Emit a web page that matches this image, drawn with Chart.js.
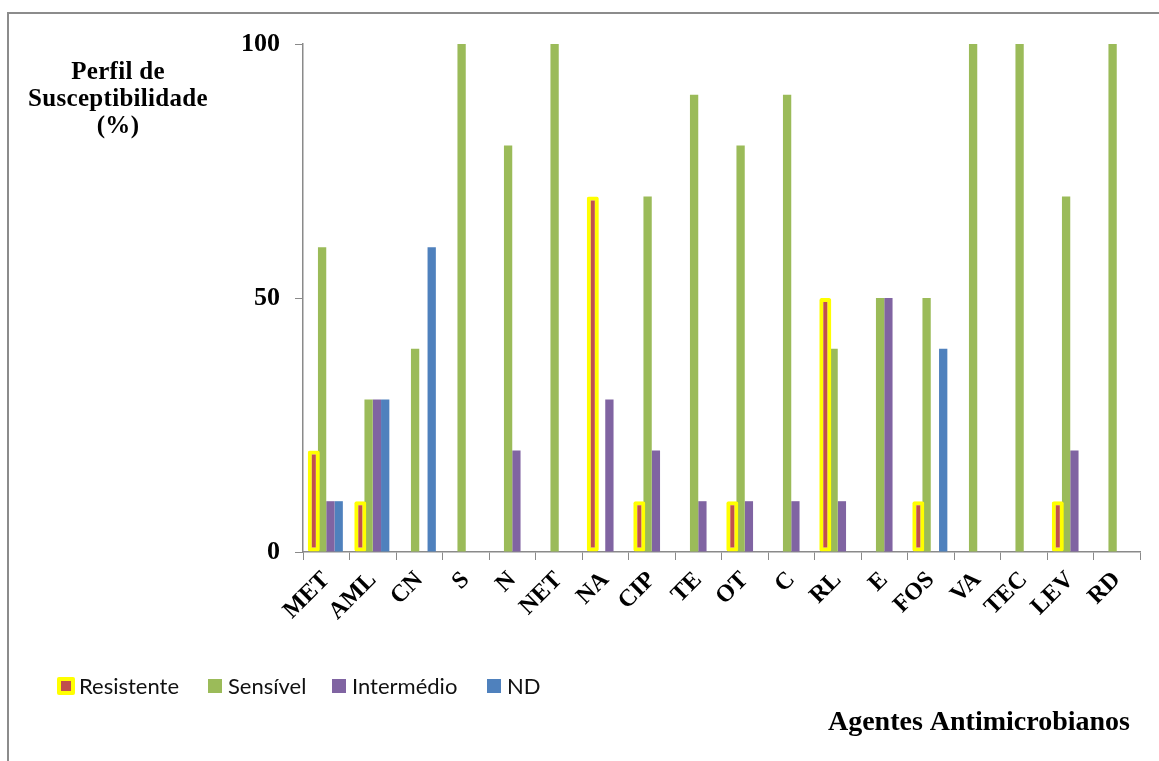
<!DOCTYPE html>
<html lang="pt">
<head>
<meta charset="utf-8">
<title>Perfil de Susceptibilidade</title>
<script src="https://cdn.jsdelivr.net/npm/chart.js@4.4.1/dist/chart.umd.min.js"></script>
<style>
  html, body { margin: 0; padding: 0; background: #ffffff; }
  #wrap { width: 1159px; height: 761px; position: relative; }
  canvas { display: block; }
</style>
</head>
<body>
<div id="wrap"><canvas id="chart" width="1159" height="761"></canvas></div>
<script>
// Antimicrobial agents (categories)
const categories = ['MET', 'AML', 'CN', 'S', 'N', 'NET', 'NA', 'CIP', 'TE', 'OT', 'C', 'RL', 'E', 'FOS', 'VA', 'TEC', 'LEV', 'RD'];

// Susceptibility profile, percent of isolates
const resistente = [20, 10, 0, 0, 0, 0, 70, 10, 0, 10, 0, 50, 0, 10, 0, 0, 10, 0];
const sensivel   = [60, 30, 40, 100, 80, 100, 0, 70, 90, 80, 90, 40, 50, 50, 100, 100, 70, 100];
const intermedio = [10, 30, 0, 0, 20, 0, 30, 20, 10, 10, 10, 10, 50, 0, 0, 0, 20, 0];
const nd         = [10, 30, 60, 0, 0, 0, 0, 0, 0, 0, 0, 0, 0, 40, 0, 0, 0, 0];

// Value-axis tick labels
const yTicks = [0, 50, 100];

const SERIF = '"Liberation Serif", "Times New Roman", serif';
const SANS = 'Lato, "Open Sans", sans-serif';
const AXIS_GREY = '#8a8a8a';

// Frame, titles and legend drawn around the plot
const decor = {
  id: 'decor',
  beforeDraw(chart) {
    const ctx = chart.ctx;
    ctx.save();
    ctx.fillStyle = '#ffffff';
    ctx.fillRect(0, 0, chart.width, chart.height);
    ctx.fillStyle = '#8c8c8c';
    ctx.fillRect(7, 12, chart.width - 7, 2);
    ctx.fillRect(7, 12, 2, chart.height - 12);
    ctx.restore();
  },
  afterDraw(chart, args, opts) {
    const ctx = chart.ctx;
    ctx.save();
    ctx.fillStyle = '#000000';
    ctx.textBaseline = 'alphabetic';

    // value-axis title
    ctx.font = 'bold 25px ' + SERIF;
    ctx.textAlign = 'center';
    ctx.letterSpacing = '0.3px';
    const yLines = ['Perfil de', 'Susceptibilidade', '(%)'];
    yLines.forEach((t, i) => ctx.fillText(t, 118, 79 + i * 27));

    // category-axis title
    ctx.font = 'bold 28px ' + SERIF;
    ctx.textAlign = 'right';
    ctx.letterSpacing = '0px';
    ctx.fillText('Agentes Antimicrobianos', 1130, 730);

    // legend
    ctx.font = '22px ' + SANS;
    ctx.textAlign = 'left';
    chart.data.datasets.forEach((ds, i) => {
      const bx = opts.boxX[i];
      const by = 679;
      if (ds.legendRing) {
        ctx.fillStyle = ds.borderColor;
        ctx.beginPath();
        ctx.roundRect(bx - 2, by - 2, 18, 18, 2);
        ctx.fill();
        ctx.fillStyle = ds.backgroundColor;
        ctx.fillRect(bx + 2, by + 2, 10, 10);
      } else {
        ctx.fillStyle = ds.backgroundColor;
        ctx.fillRect(bx, by, 14, 14);
      }
      ctx.fillStyle = '#111111';
      ctx.fillText(ds.label, bx + 20, 694);
    });
    ctx.restore();
  }
};

const chart = new Chart(document.getElementById('chart'), {
  type: 'bar',
  data: {
    labels: categories,
    datasets: [
      {
        label: 'Resistente',
        data: resistente,
        backgroundColor: '#C0504D',
        borderColor: '#FFFF00',
        borderWidth: (c) => (c.raw ? 4 : 0),
        borderRadius: 2,
        borderSkipped: false,
        barPercentage: 1.45,
        legendRing: true
      },
      { label: 'Sensível', data: sensivel, backgroundColor: '#9BBB59' },
      { label: 'Intermédio', data: intermedio, backgroundColor: '#8064A2' },
      { label: 'ND', data: nd, backgroundColor: '#4F81BD' }
    ]
  },
  options: {
    responsive: false,
    animation: false,
    events: [],
    layout: { padding: { top: 44, right: 19, left: 0, bottom: 0 } },
    datasets: {
      bar: { categoryPercentage: 0.714, barPercentage: 1 }
    },
    scales: {
      x: {
        grid: {
          display: true,
          drawOnChartArea: false,
          drawTicks: true,
          tickLength: 8,
          color: AXIS_GREY,
          offset: true
        },
        border: { display: true, color: AXIS_GREY, width: 1.5 },
        ticks: {
          color: '#000000',
          font: { family: SERIF, size: 24, weight: 'bold' },
          minRotation: 45,
          maxRotation: 45,
          autoSkip: false,
          padding: 6
        },
        afterFit(scale) { scale.height = 209; }
      },
      y: {
        min: 0,
        max: 100,
        afterBuildTicks(scale) { scale.ticks = yTicks.map(v => ({ value: v })); },
        grid: {
          display: true,
          drawOnChartArea: false,
          drawTicks: true,
          tickLength: 8,
          color: AXIS_GREY
        },
        border: { display: true, color: AXIS_GREY, width: 1.5 },
        ticks: {
          color: '#000000',
          font: { family: SERIF, size: 26, weight: 'bold' },
          padding: 15
        },
        afterFit(scale) { scale.width = 303; }
      }
    },
    plugins: {
      legend: { display: false },
      tooltip: { enabled: false },
      decor: { boxX: [59, 208, 332, 487] }
    }
  },
  plugins: [decor]
});
</script>
</body>
</html>
